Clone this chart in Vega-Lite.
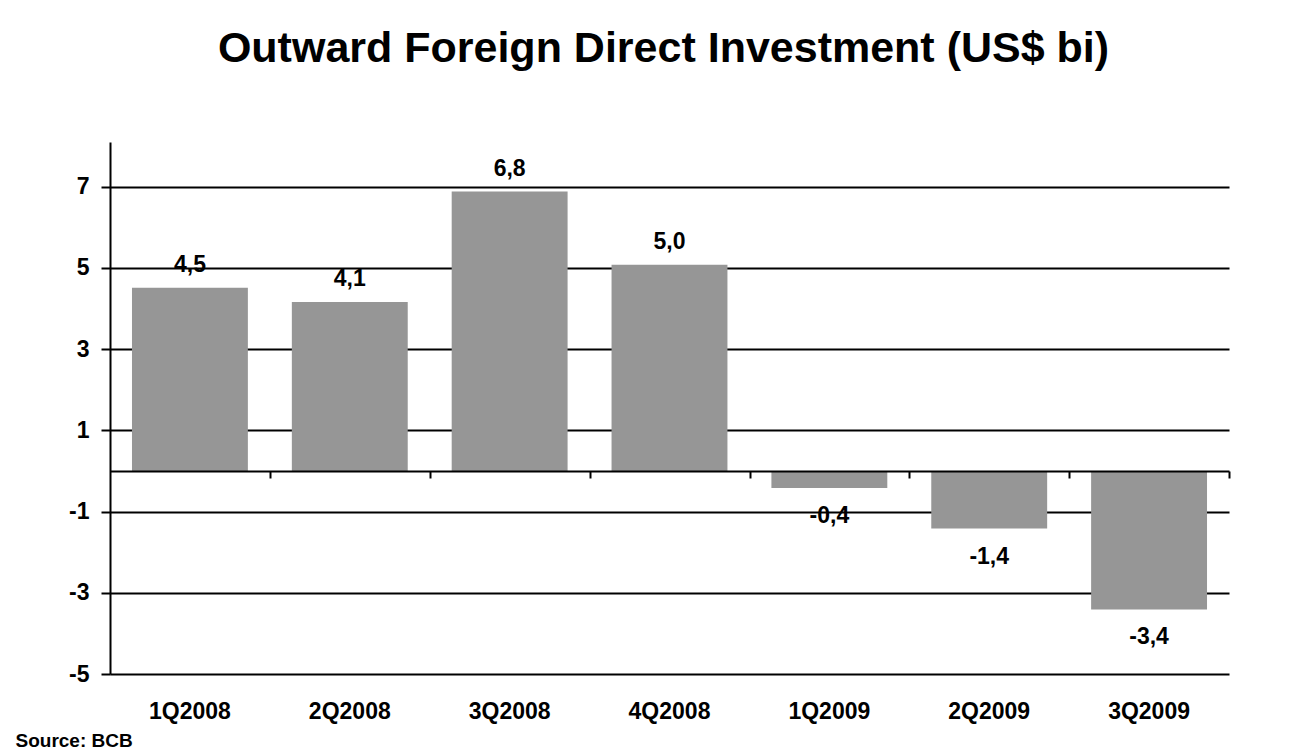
{
  "$schema": "https://vega.github.io/schema/vega-lite/v6.json",
  "width": 1119,
  "height": 532,
  "autosize": {"type": "none"},
  "padding": {"left": 110, "top": 142, "right": 64, "bottom": 77},
  "background": "white",
  "config": {
    "view": {"stroke": null},
    "font": "Liberation Sans"
  },
  "title": {
    "text": "Outward Foreign Direct Investment (US$ bi)",
    "font": "Liberation Sans",
    "fontSize": 43,
    "fontWeight": "bold",
    "color": "#000",
    "anchor": "middle",
    "baseline": "alphabetic",
    "offset": 37,
    "dx": -6
  },
  "data": {
    "values": [
      {"quarter": "1Q2008", "value": 4.51, "label": "4,5"},
      {"quarter": "2Q2008", "value": 4.16, "label": "4,1"},
      {"quarter": "3Q2008", "value": 6.88, "label": "6,8"},
      {"quarter": "4Q2008", "value": 5.08, "label": "5,0"},
      {"quarter": "1Q2009", "value": -0.42, "label": "-0,4"},
      {"quarter": "2Q2009", "value": -1.42, "label": "-1,4"},
      {"quarter": "3Q2009", "value": -3.41, "label": "-3,4"}
    ]
  },
  "resolve": {"axis": {"x": "independent", "y": "independent"}},
  "layer": [
    {
      "mark": {"type": "bar", "color": "#969696"},
      "encoding": {
        "x": {
          "field": "quarter",
          "type": "nominal",
          "sort": null,
          "scale": {"paddingInner": 0.275, "paddingOuter": 0.1375},
          "axis": {
            "orient": "bottom",
            "title": "Source: BCB",
            "titleX": -95,
            "titleY": 72,
            "titleAlign": "left",
            "titleBaseline": "alphabetic",
            "titleFont": "Liberation Sans",
            "titleFontSize": 19,
            "titleFontWeight": "bold",
            "titleColor": "#000",
            "labelAngle": 0,
            "labelFont": "Liberation Sans",
            "labelFontSize": 23,
            "labelFontWeight": "bold",
            "labelColor": "#000",
            "labelPadding": 26,
            "ticks": false,
            "domain": false,
            "grid": false
          }
        },
        "y": {
          "field": "value",
          "type": "quantitative",
          "scale": {"domain": [-5, 8.1], "nice": false, "zero": false},
          "axis": {
            "orient": "left",
            "title": null,
            "values": [-5, -3, -1, 1, 3, 5, 7],
            "labelExpr": "'' + datum.value",
            "labelFont": "Liberation Sans",
            "labelFontSize": 23,
            "labelFontWeight": "bold",
            "labelColor": "#000",
            "labelPadding": 12,
            "tickSize": 9,
            "tickWidth": 2,
            "tickColor": "#000",
            "domainColor": "#000",
            "domainWidth": 2,
            "grid": true,
            "gridColor": "#000",
            "gridWidth": 2,
            "gridOpacity": 1,
            "zindex": 0
          }
        }
      }
    },
    {
      "transform": [{"filter": "datum.value >= 0"}],
      "mark": {"type": "text", "baseline": "alphabetic", "dy": -16, "font": "Liberation Sans", "fontSize": 23, "fontWeight": "bold", "color": "#000"},
      "encoding": {
        "x": {
          "field": "quarter",
          "type": "nominal",
          "sort": null,
          "axis": {
            "orient": "top",
            "offset": -329,
            "title": null,
            "labels": false,
            "tickOffset": 80,
            "tickSize": -7,
            "tickWidth": 2,
            "tickColor": "#000",
            "domainColor": "#000",
            "domainWidth": 2,
            "grid": false,
            "zindex": 1
          }
        },
        "y": {"field": "value", "type": "quantitative", "axis": null},
        "text": {"field": "label"}
      }
    },
    {
      "transform": [{"filter": "datum.value < 0"}],
      "mark": {"type": "text", "baseline": "alphabetic", "dy": 35, "font": "Liberation Sans", "fontSize": 23, "fontWeight": "bold", "color": "#000"},
      "encoding": {
        "x": {"field": "quarter", "type": "nominal", "sort": null, "axis": null},
        "y": {"field": "value", "type": "quantitative", "axis": null},
        "text": {"field": "label"}
      }
    }
  ]
}
